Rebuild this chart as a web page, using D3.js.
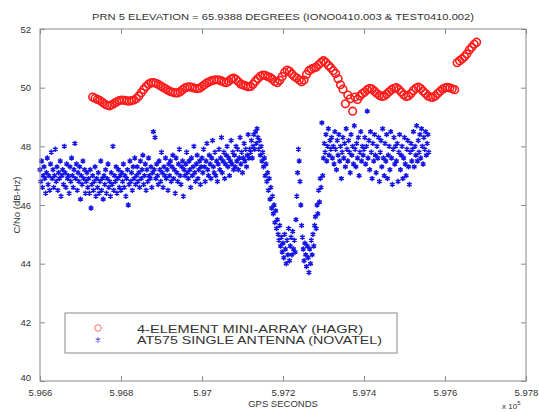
<!DOCTYPE html>
<html><head><meta charset="utf-8">
<script src="https://cdn.jsdelivr.net/npm/d3@7"></script>
<style>
body{margin:0;background:#fff}
text{font-family:"Liberation Sans",Arial,Helvetica,sans-serif;fill:#333}
</style>
</head><body><svg id="c" width="539" height="412"></svg>
<script>
const title = "PRN 5 ELEVATION = 65.9388 DEGREES (IONO0410.003 & TEST0410.002)";
const xLabel = "GPS SECONDS";
const yLabel = "C/No (dB-Hz)";
const seriesNames = ["4-ELEMENT MINI-ARRAY (HAGR)", "AT575 SINGLE ANTENNA (NOVATEL)"];
const xTickValues = [596600, 596800, 597000, 597200, 597400, 597600, 597800];
const xTickLabels = ["5.966", "5.968", "5.97", "5.972", "5.974", "5.976", "5.978"];
const yTickValues = [40, 42, 44, 46, 48, 50, 52];
const yTickLabels = ["40", "42", "44", "46", "48", "50", "52"];

// HAGR (red circles): GPS seconds start / step, C/No values
const redStart = 596730, redStep = 6;
const redValues = [
49.68,49.64,49.60,49.56,49.50,49.44,49.40,49.38,49.42,49.47,
49.52,49.56,49.58,49.57,49.55,49.54,49.56,49.58,49.63,49.72,
49.83,49.94,50.04,50.12,50.16,50.17,50.15,50.11,50.06,50.01,
49.96,49.91,49.87,49.84,49.82,49.82,49.86,49.93,49.99,50.02,
50.03,50.01,49.98,49.97,49.98,50.04,50.10,50.16,50.20,50.24,
50.26,50.27,50.26,50.23,50.19,50.17,50.22,50.29,50.33,50.28,
50.20,50.12,50.09,50.06,50.03,50.04,50.12,50.22,50.31,50.39,
50.43,50.42,50.38,50.35,50.29,50.21,50.17,50.25,50.38,50.52,
50.60,50.56,50.47,50.38,50.33,50.26,50.20,50.26,50.45,50.58,
50.63,50.67,50.70,50.78,50.86,50.92,50.86,50.76,50.68,50.58,
50.48,50.30,50.10,49.95,49.45,49.75,49.62,49.20,49.68,49.60,
49.72,49.80,49.85,49.93,49.98,49.95,49.88,49.80,49.74,49.70,
49.72,49.78,49.86,49.93,49.98,50.00,49.94,49.85,49.76,49.70,
49.72,49.80,49.90,49.98,50.02,49.97,49.88,49.80,49.72,49.68,
49.67,49.72,49.80,49.88,49.95,49.99,50.01,49.99,49.96,49.93,
50.85,50.92,50.98,51.05,51.15,51.28,51.38,51.48,51.55
];

// NOVATEL (blue asterisks): GPS seconds start / step, C/No values
const blueStart = 596600, blueStep = 2;
const blueValues = [
47.2,46.8,47.5,46.6,47.0,47.3,46.9,46.4,47.1,47.6,46.7,47.0,46.5,47.4,47.8,46.9,47.2,46.6,47.0,47.9,
46.8,47.3,46.5,47.1,46.9,47.5,46.3,47.0,47.2,46.7,48.0,47.1,46.6,47.4,46.9,47.0,46.4,47.3,46.8,47.6,
47.0,46.6,47.2,48.1,46.9,47.4,46.5,47.1,46.8,47.3,46.2,47.0,46.7,47.5,46.9,47.2,46.4,46.8,47.1,46.6,
46.9,46.4,47.2,45.9,46.7,47.0,46.5,46.8,47.3,46.3,46.9,46.6,47.1,46.4,46.8,47.5,46.5,46.9,46.2,47.0,
46.7,47.2,46.4,46.9,47.4,46.6,46.8,46.3,47.1,46.7,48.0,46.5,47.0,46.8,47.3,46.4,46.9,47.2,46.6,47.0,
46.5,47.1,46.8,47.4,46.6,47.0,46.3,46.9,47.2,46.0,46.7,47.5,46.8,47.1,46.5,47.3,46.9,47.6,46.7,47.0,
47.3,46.8,47.1,46.6,47.5,46.9,47.2,47.7,46.7,47.0,47.4,46.5,47.2,46.8,47.6,47.0,46.9,47.3,46.6,47.1,
48.5,47.2,48.3,46.9,47.4,47.0,46.7,47.5,47.2,46.8,47.8,47.1,46.6,47.3,47.0,47.6,46.9,47.2,46.5,47.4,
47.0,47.5,46.8,47.3,47.7,46.9,47.2,46.4,47.6,47.1,46.8,47.4,47.9,47.0,46.7,47.3,47.5,46.3,47.2,47.0,
47.4,47.8,47.1,46.9,47.5,47.2,46.6,47.6,47.0,47.3,48.0,47.1,46.8,47.4,47.7,46.9,47.2,47.5,46.7,47.3,
47.6,47.1,47.9,47.3,46.8,47.5,48.1,47.2,47.0,47.7,47.4,46.9,47.6,48.2,47.3,47.1,47.8,47.0,47.5,46.8,
47.4,47.9,47.2,47.6,48.3,47.1,47.5,47.8,46.9,47.4,47.7,48.0,47.3,47.6,47.0,47.5,48.2,47.4,47.8,47.2,
47.7,47.3,48.0,47.5,47.9,47.2,47.6,48.3,47.4,47.8,47.1,47.6,48.1,47.5,47.9,47.3,47.7,48.4,47.6,47.9,
47.8,48.2,47.6,48.0,48.4,47.9,48.5,48.1,48.6,48.3,47.9,48.2,47.7,48.0,47.5,47.8,47.3,47.6,47.0,47.4,
46.8,47.1,46.5,46.9,46.2,46.6,45.9,46.3,45.7,46.0,45.4,45.8,45.2,45.5,45.0,44.8,45.3,44.6,44.9,44.4,
44.7,44.2,45.0,44.5,44.0,44.8,44.3,45.2,44.1,44.6,44.9,44.3,45.1,44.5,44.8,44.4,45.5,46.3,47.1,47.9,
47.5,46.8,46.0,45.3,44.9,44.5,44.1,44.7,44.3,43.9,44.6,44.2,43.7,44.5,44.0,44.8,44.3,45.0,44.6,45.3,
45.6,45.2,46.0,45.7,46.5,46.1,46.9,46.6,48.8,47.0,47.6,48.1,47.8,48.4,47.5,48.0,48.6,47.7,48.2,47.9,
48.3,47.6,48.0,47.4,48.5,47.9,47.2,48.2,47.7,48.4,47.5,48.0,46.9,47.8,48.3,47.6,48.1,47.3,48.6,47.9,
47.5,48.2,47.8,47.1,48.4,47.7,48.0,47.4,48.7,47.9,47.3,48.1,47.6,48.3,47.0,47.8,48.5,47.5,48.0,47.7,
47.9,48.3,47.4,48.0,49.2,47.6,48.2,47.2,48.5,47.8,46.9,48.1,47.5,48.4,47.7,47.1,48.0,47.6,48.3,46.8,
47.8,48.2,47.3,48.6,47.6,47.0,48.1,47.5,48.4,46.9,47.7,48.0,47.2,48.5,47.6,46.7,47.9,48.3,47.4,48.0,
47.5,48.1,46.8,47.8,48.4,47.2,47.7,48.0,46.9,47.6,48.3,47.4,47.0,47.9,48.2,47.3,46.7,47.8,48.1,47.5,
47.9,48.5,47.3,48.0,47.7,48.7,47.5,48.2,47.8,48.4,47.6,48.6,48.0,47.4,48.3,47.9,48.5,47.7,48.1,48.4,47.8
];

const red = redValues.map((v, i) => ({t: redStart + i * redStep, v}));
const blue = blueValues.map((v, i) => ({t: blueStart + i * blueStep, v}));

const svg = d3.select("#c");
const L = 40, R = 526, T = 29, B = 381;
const x = d3.scaleLinear().domain([596600, 597800]).range([L, R]);
const y = d3.scaleLinear().domain([40, 52]).range([B, T]);
const axisColor = "#8a8a8a";

// data
const asterisk = d3.symbol().type(d3.symbolAsterisk).size(20)();
svg.append("g").selectAll("path").data(blue).join("path")
  .attr("d", asterisk)
  .attr("transform", d => `translate(${x(d.t)},${y(d.v)})`)
  .attr("fill", "none").attr("stroke", "#1414e6").attr("stroke-width", 1.5);

svg.append("g").selectAll("circle").data(red).join("circle")
  .attr("cx", d => x(d.t)).attr("cy", d => y(d.v)).attr("r", 3.8)
  .attr("fill", "none").attr("stroke", "#ff1a1a").attr("stroke-width", 1.6);

// axes (MATLAB box style, inward ticks)
const fmtX = v => xTickLabels[xTickValues.indexOf(v)];
const fmtY = v => yTickLabels[yTickValues.indexOf(v)];
function styleAxis(g){
  g.select(".domain").remove();
  g.selectAll("line").attr("stroke", axisColor);
  g.selectAll("text").attr("fill", "#333").style("font-size", "9.5px")
    .style("font-family", '"Liberation Sans",Arial,sans-serif');
}
svg.append("g").attr("transform", `translate(0,${B})`)
  .call(d3.axisBottom(x).tickValues(xTickValues).tickFormat(fmtX).tickSizeInner(-5).tickSizeOuter(0).tickPadding(8))
  .call(styleAxis);
svg.append("g").attr("transform", `translate(0,${T})`)
  .call(d3.axisTop(x).tickValues(xTickValues).tickFormat("").tickSizeInner(-5).tickSizeOuter(0))
  .call(styleAxis);
svg.append("g").attr("transform", `translate(${L},0)`)
  .call(d3.axisLeft(y).tickValues(yTickValues).tickFormat(fmtY).tickSizeInner(-5).tickSizeOuter(0).tickPadding(9))
  .call(styleAxis);
svg.append("g").attr("transform", `translate(${R},0)`)
  .call(d3.axisRight(y).tickValues(yTickValues).tickFormat("").tickSizeInner(-5).tickSizeOuter(0))
  .call(styleAxis);
svg.selectAll(".tick text").filter(function(){ return this.textContent === "40"; }).attr("dy", "-0.1em");

svg.append("rect").attr("x", L).attr("y", T).attr("width", R - L).attr("height", B - T)
  .attr("fill", "none").attr("stroke", axisColor).attr("stroke-width", 1);

// titles
svg.append("text").attr("x", (L + R) / 2).attr("y", 20).attr("text-anchor", "middle")
  .style("font-size", "9.5px").attr("textLength", 382).attr("lengthAdjust", "spacingAndGlyphs").text(title);
svg.append("text").attr("x", (L + R) / 2).attr("y", 407).attr("text-anchor", "middle")
  .style("font-size", "9.5px").text(xLabel);
svg.append("text").attr("transform", `translate(20,${(T + B) / 2}) rotate(-90)`).attr("text-anchor", "middle")
  .style("font-size", "9.5px").text(yLabel);
const mult = svg.append("text").attr("x", 502).attr("y", 409).style("font-size", "8px");
mult.append("tspan").text("x 10");
mult.append("tspan").attr("dy", -4).style("font-size", "6px").text("5");

// legend
const lg = svg.append("g");
lg.append("rect").attr("x", 65).attr("y", 313).attr("width", 332).attr("height", 40)
  .attr("fill", "#fff").attr("stroke", axisColor);
lg.append("circle").attr("cx", 98).attr("cy", 328).attr("r", 3.3)
  .attr("fill", "none").attr("stroke", "#ff6a6a");
lg.append("path").attr("d", asterisk).attr("transform", "translate(98,340)")
  .attr("fill", "none").attr("stroke", "#4a4ae6").attr("stroke-width", 1.1);
lg.append("text").attr("x", 137).attr("y", 333).style("font-size", "11.5px")
  .attr("textLength", 226).attr("lengthAdjust", "spacingAndGlyphs").text(seriesNames[0]);
lg.append("text").attr("x", 137).attr("y", 344).style("font-size", "11.5px")
  .attr("textLength", 245).attr("lengthAdjust", "spacingAndGlyphs").text(seriesNames[1]);
</script>
</body></html>
